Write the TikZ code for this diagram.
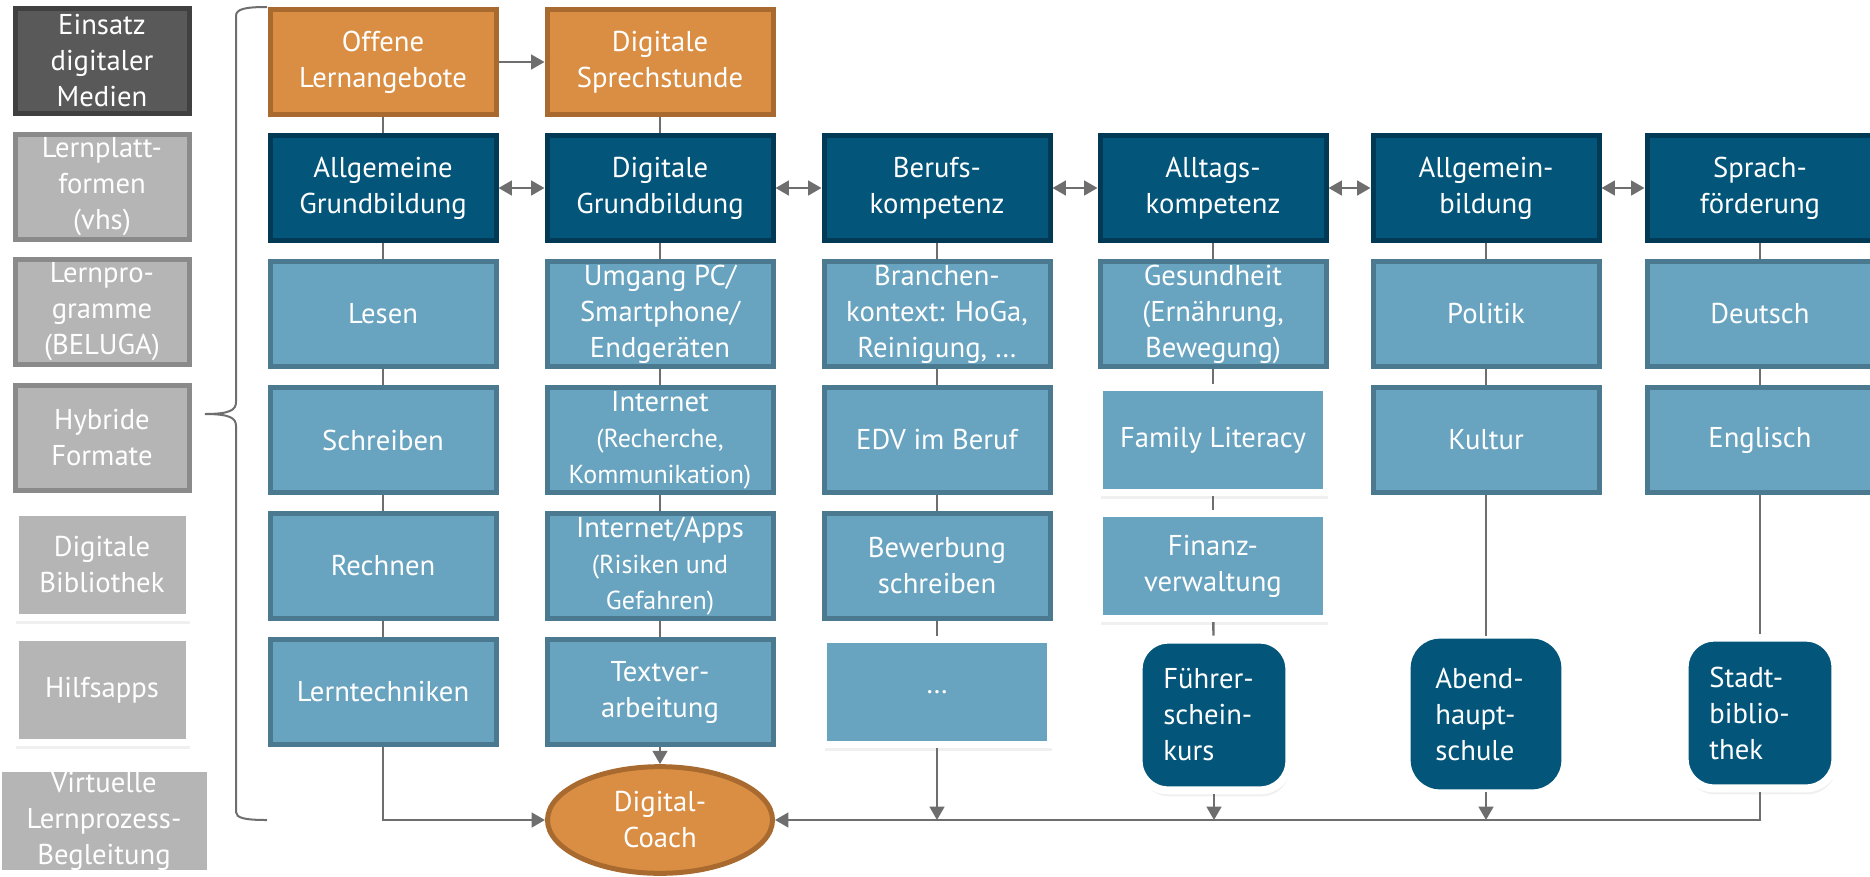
\documentclass[tikz,border=0pt]{standalone}
\usepackage{fontspec}
\setmainfont{PT Sans}
\usetikzlibrary{arrows.meta,shapes.geometric,shadows}

\definecolor{orangefill}{RGB}{217,142,67}
\definecolor{orangeline}{RGB}{168,106,46}
\definecolor{darkfill}{RGB}{3,85,122}
\definecolor{darkline}{RGB}{2,58,85}
\definecolor{lightfill}{RGB}{104,163,192}
\definecolor{lightline}{RGB}{74,121,144}
\definecolor{grayfill}{RGB}{181,181,181}
\definecolor{grayline}{RGB}{138,138,138}
\definecolor{darkgrayfill}{RGB}{89,89,89}
\definecolor{darkgrayline}{RGB}{64,64,64}
\definecolor{linkgray}{RGB}{110,110,110}

\newcommand{\smallfont}{\fontsize{19.5}{23}\selectfont}

\tikzset{every picture/.style={line width=0.75pt}}
\tikzset{
  box/.style={rectangle, minimum width=169.5pt, minimum height=78.75pt, line width=3.75pt,
    inner sep=2pt, align=center, text=white, font=\fontsize{21.5}{27}\selectfont},
  topbox/.style={box, fill=orangefill, draw=orangeline},
  headbox/.style={box, fill=darkfill, draw=darkline},
  subbox/.style={box, fill=lightfill, draw=lightline},
  framebox/.style={box, fill=lightfill, draw=white, line width=5.25pt, minimum width=170pt,
    minimum height=79pt, drop shadow={opacity=0.12, shadow xshift=1pt, shadow yshift=-4.5pt}},
  mediabox/.style={box, minimum width=130.5pt, fill=grayfill, draw=grayline},
  mediaframe/.style={mediabox, draw=white, line width=5.25pt, minimum height=79pt,
    drop shadow={opacity=0.12, shadow xshift=1pt, shadow yshift=-4.5pt}},
  roundbox/.style={box, rounded corners=22pt, minimum width=113pt, minimum height=113pt,
    text width=76pt, align=left, fill=darkfill, draw=none},
  roundframe/.style={roundbox, draw=white, line width=6pt,
    drop shadow={opacity=0.12, shadow xshift=1pt, shadow yshift=-4.5pt}},
  coachnode/.style={box, ellipse, minimum width=168.75pt, minimum height=80pt,
    fill=orangefill, draw=orangeline},
  link/.style={draw=linkgray, line width=1.8pt},
  arrowto/.style={link, -{Triangle[length=10pt,width=11pt]}},
  arrowboth/.style={link, {Triangle[length=10pt,width=11pt]}-{Triangle[length=10pt,width=11pt]}}
}

\begin{document}
\begin{tikzpicture}[x=0.75pt,y=0.75pt,yscale=-1,xscale=1]
\useasboundingbox (0,0) rectangle (1870,876);

% Media column
\node[mediabox, fill=darkgrayfill, draw=darkgrayline] (einsatz) at (102,61) {Einsatz\\digitaler\\Medien};
\node[mediabox] (lernplatt) at (102,187) {Lernplatt-\\formen\\(vhs)};
\node[mediabox] (lernprog) at (102,312) {Lernpro-\\gramme\\(BELUGA)};
\node[mediabox] (hybrid) at (102,438) {Hybride\\Formate};
\node[mediaframe] (bibliothek) at (102,565) {Digitale\\Bibliothek};
\node[mediaframe] (hilfsapps) at (102,690) {Hilfsapps};
\node[mediaframe, minimum width=159pt] (virtuell) at (104,821) {Virtuelle\\Lernprozess-\\Begleitung};

% Brace
\draw[link, line width=1.5pt] (267,7) .. controls (245,7) and (236,9) .. (236,16) -- (236,402)
  .. controls (236,410) and (230,414) .. (205,414) .. controls (230,414) and (236,418) .. (236,426)
  -- (236,812) .. controls (236,818) and (245,820) .. (267,820);

% Top row
\node[topbox] (offene) at (383,62) {Offene\\Lernangebote};
\node[topbox] (sprechstunde) at (660,62) {Digitale\\Sprechstunde};

% Head row
\node[headbox] (allggrund) at (383,188) {Allgemeine\\Grundbildung};
\node[headbox] (diggrund) at (660,188) {Digitale\\Grundbildung};
\node[headbox] (beruf) at (937,188) {Berufs-\\kompetenz};
\node[headbox] (alltag) at (1213,188) {Alltags-\\kompetenz};
\node[headbox] (allgbild) at (1486,188) {Allgemein-\\bildung};
\node[headbox] (sprach) at (1760,188) {Sprach-\\förderung};

% Column 1
\node[subbox] (lesen) at (383,314) {Lesen};
\node[subbox] (schreiben) at (383,440) {Schreiben};
\node[subbox] (rechnen) at (383,566) {Rechnen};
\node[subbox] (lerntech) at (383,692) {Lerntechniken};

% Column 2
\node[subbox] (umgang) at (660,314) {Umgang PC/\\Smartphone/\\Endgeräten};
\node[subbox] (internet) at (660,440) {Internet\\\smallfont (Recherche,\\\smallfont Kommunikation)};
\node[subbox] (apps) at (660,566) {Internet/Apps\\\smallfont (Risiken und\\\smallfont Gefahren)};
\node[subbox] (textver) at (660,692) {Textver-\\arbeitung};
\node[coachnode] (coach) at (660,820) {Digital-\\Coach};

% Column 3
\node[subbox] (branchen) at (937,314) {Branchen-\\kontext: HoGa,\\Reinigung, …};
\node[subbox] (edv) at (937,440) {EDV im Beruf};
\node[subbox] (bewerbung) at (937,566) {Bewerbung\\schreiben};
\node[framebox] (weitere) at (937,692) {…};

% Column 4
\node[subbox] (gesund) at (1213,314) {Gesundheit\\(Ernährung,\\Bewegung)};
\node[framebox] (family) at (1213,440) {Family Literacy};
\node[framebox] (finanz) at (1213,566) {Finanz-\\verwaltung};
\node[roundframe] (fuehrer) at (1214,715) {Führer-\\schein-\\kurs};

% Column 5
\node[subbox] (politik) at (1486,314) {Politik};
\node[subbox] (kultur) at (1486,440) {Kultur};
\node[roundbox] (abend) at (1486,714) {Abend-\\haupt-\\schule};

% Column 6
\node[subbox] (deutsch) at (1760,314) {Deutsch};
\node[subbox] (englisch) at (1760,440) {Englisch};
\node[roundframe] (stadt) at (1760,713) {Stadt-\\biblio-\\thek};

%Straight Lines
\draw[arrowto] (offene) -- (sprechstunde);
\draw[link] (offene) -- (allggrund);
\draw[link] (sprechstunde) -- (diggrund);
\draw[arrowboth] (allggrund) -- (diggrund);
\draw[arrowboth] (diggrund) -- (beruf);
\draw[arrowboth] (beruf) -- (alltag);
\draw[arrowboth] (alltag) -- (allgbild);
\draw[arrowboth] (allgbild) -- (sprach);

\draw[link] (allggrund) -- (lesen);
\draw[link] (lesen) -- (schreiben);
\draw[link] (schreiben) -- (rechnen);
\draw[link] (rechnen) -- (lerntech);

\draw[link] (diggrund) -- (umgang);
\draw[link] (umgang) -- (internet);
\draw[link] (internet) -- (apps);
\draw[link] (apps) -- (textver);

\draw[link] (beruf) -- (branchen);
\draw[link] (branchen) -- (edv);
\draw[link] (edv) -- (bewerbung);
\draw[link] (bewerbung) -- (weitere);

\draw[link] (alltag) -- (gesund);
\draw[link] (gesund) -- (family);
\draw[link] (family) -- (finanz);
\draw[link] (finanz) -- (fuehrer);

\draw[link] (allgbild) -- (politik);
\draw[link] (politik) -- (kultur);
\draw[link] (kultur) -- (abend);

\draw[link] (sprach) -- (deutsch);
\draw[link] (deutsch) -- (englisch);
\draw[link] (englisch) -- (stadt);

% To the coach
\draw[arrowto] (lerntech) |- (coach.west);
\draw[arrowto] (textver) -- (coach);
\draw[arrowto] (stadt) |- (coach.east);
\draw[arrowto] (weitere) -- (weitere |- coach.east);
\draw[arrowto] (fuehrer) -- (fuehrer |- coach.east);
\draw[arrowto] (abend) -- (abend |- coach.east);

\end{tikzpicture}
\end{document}
